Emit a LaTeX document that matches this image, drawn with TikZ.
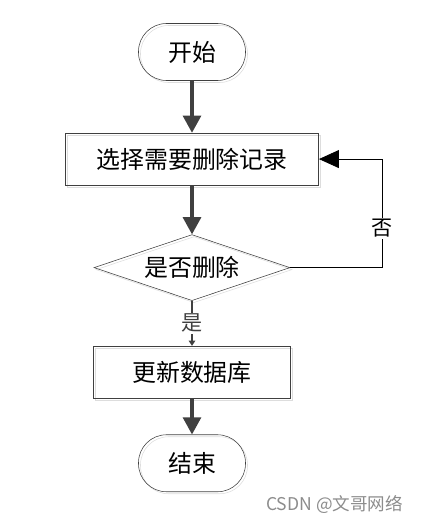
\documentclass[tikz,border=0pt]{standalone}
\usepackage{fontspec}
\setmainfont{Noto Sans CJK SC}
\usetikzlibrary{arrows.meta, positioning, shapes.geometric, shadows}
\definecolor{flowgray}{HTML}{404040}
\definecolor{ghostgray}{HTML}{DDDDDD}
\definecolor{markgray}{HTML}{8C8C8C}
\tikzset{
  ghost/.style={drop shadow={shadow xshift=0.05cm, shadow yshift=-0.05cm,
                fill=none, draw=ghostgray, opacity=1}},
  term/.style={rectangle, rounded corners=0.7cm, draw=flowgray, ghost,
               minimum width=2.675cm, minimum height=1.425cm,
               font=\fontsize{17}{19}\selectfont},
  proc/.style={rectangle, draw=flowgray, ghost, minimum height=1.3cm,
               text width=#1, align=center, font=\fontsize{17}{19}\selectfont},
  proc/.default=6.1cm,
  decide/.style={diamond, draw=flowgray, ghost, inner sep=0pt, aspect=3,
                 minimum width=4.9cm, minimum height=1.65cm,
                 font=\fontsize{17}{19}\selectfont},
  arr/.style={-{Triangle[length=0.43cm, width=0.45cm]}, line width=2.2pt, flowgray},
  lbl/.style={fill=white, inner sep=1pt, font=\fontsize{15}{17}\selectfont},
}

\begin{document}
\begin{tikzpicture}[node distance=1.3cm]
  \useasboundingbox (0,0) rectangle (10.575,-13.05);

  \node[term] (start) at (4.8,-1.3) {开始};
  \node[proc, below=1.3cm of start] (select) {选择需要删除记录};
  \node[decide, below=1.225cm of select] (check) {是否删除};
  \node[proc=4.7cm, below=1.125cm of check] (update) {更新数据库};
  \node[term, below=0.9cm of update] (stop) {结束};

  \draw[arr] (start) -- (select);
  \draw[arr] (select) -- (check);
  \draw[-{Triangle[length=0.13cm, width=0.16cm]}, line width=1.4pt, flowgray]
    (check) -- node[lbl] {是} (update);
  \draw[arr] (update) -- (stop);

  % no: back to the selection
  \draw[-{Triangle[length=0.5cm, width=0.45cm]}, line width=0.6pt, black]
    (check.east) -- ++(2.3cm,0) |- node[lbl, pos=0.18] {否} (select.east);

  \node[anchor=east, text=markgray, font=\fontsize{12.5}{14}\selectfont] (mark)
    at (10.2,-12.62) {CSDN @文哥网络};
\end{tikzpicture}
\end{document}
